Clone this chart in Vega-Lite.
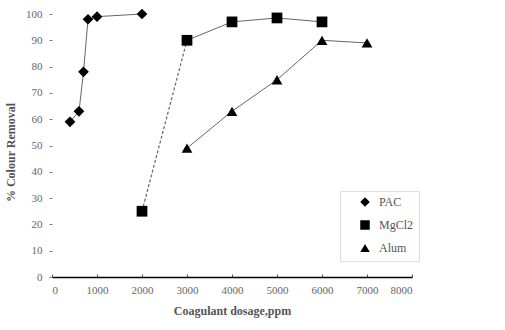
{
  "$schema": "https://vega.github.io/schema/vega-lite/v6.json",
  "width": 360,
  "height": 263,
  "autosize": {"type": "none"},
  "padding": {"left": 52, "top": 14, "right": 93, "bottom": 53},
  "background": "white",
  "config": {
    "view": {"stroke": null},
    "font": "Liberation Serif",
    "axis": {"grid": false, "labelFont": "Liberation Serif", "titleFont": "Liberation Serif", "labelColor": "#666", "titleColor": "#555", "labelFontSize": 11, "titleFontSize": 12, "titleFontWeight": "bold"}
  },
  "data": {"values": [
    {"series": "PAC", "x": 400, "y": 59},
    {"series": "PAC", "x": 600, "y": 63},
    {"series": "PAC", "x": 700, "y": 78},
    {"series": "PAC", "x": 800, "y": 98},
    {"series": "PAC", "x": 1000, "y": 99},
    {"series": "PAC", "x": 2000, "y": 100},
    {"series": "MgCl2", "x": 2000, "y": 25},
    {"series": "MgCl2", "x": 3000, "y": 90},
    {"series": "MgCl2", "x": 4000, "y": 97},
    {"series": "MgCl2", "x": 5000, "y": 98.5},
    {"series": "MgCl2", "x": 6000, "y": 97},
    {"series": "Alum", "x": 3000, "y": 49},
    {"series": "Alum", "x": 4000, "y": 63},
    {"series": "Alum", "x": 5000, "y": 75},
    {"series": "Alum", "x": 6000, "y": 90},
    {"series": "Alum", "x": 7000, "y": 89}
  ]},
  "encoding": {
    "x": {"field": "x", "type": "quantitative", "scale": {"domain": [0, 8000], "nice": false}, "axis": {"title": "Coagulant dosage,ppm", "values": [0,1000,2000,3000,4000,5000,6000,7000,8000], "format": "d", "domainColor": "black", "domainWidth": 1.5, "tickColor": "#555", "tickSize": -3, "labelPadding": 10, "titlePadding": 10}},
    "y": {"field": "y", "type": "quantitative", "scale": {"domain": [0, 100], "nice": false}, "axis": {"title": "% Colour Removal", "values": [0,10,20,30,40,50,60,70,80,90,100], "domain": false, "tickColor": "#777", "tickSize": 3, "labelPadding": 7, "titlePadding": 8, "titleY": 138}}
  },
  "layer": [
    {
      "transform": [{"filter": "!(datum.series == 'MgCl2' && datum.x < 3000)"}],
      "mark": {"type": "line", "color": "#666", "strokeWidth": 1},
      "encoding": {"detail": {"field": "series"}}
    },
    {
      "transform": [{"filter": "datum.series == 'MgCl2' && datum.x <= 3000"}],
      "mark": {"type": "line", "color": "#666", "strokeWidth": 1.2, "strokeDash": [3, 2]},
      "encoding": {}
    },
    {
      "mark": {"type": "point", "filled": true, "color": "black", "opacity": 1, "size": 115},
      "encoding": {
        "shape": {"field": "series", "type": "nominal", "scale": {"domain": ["PAC", "MgCl2", "Alum"], "range": ["diamond", "square", "triangle-up"]},
          "legend": {"title": null, "orient": "none", "legendX": 288, "legendY": 177, "padding": 5, "strokeColor": "#ddd", "fillColor": "white", "symbolFillColor": "black", "symbolStrokeColor": "black", "symbolSize": 90, "labelFont": "Liberation Serif", "labelFontSize": 12, "labelColor": "#555", "rowPadding": 7, "labelOffset": 8, "symbolOffset": 14}}
      }
    }
  ]
}
